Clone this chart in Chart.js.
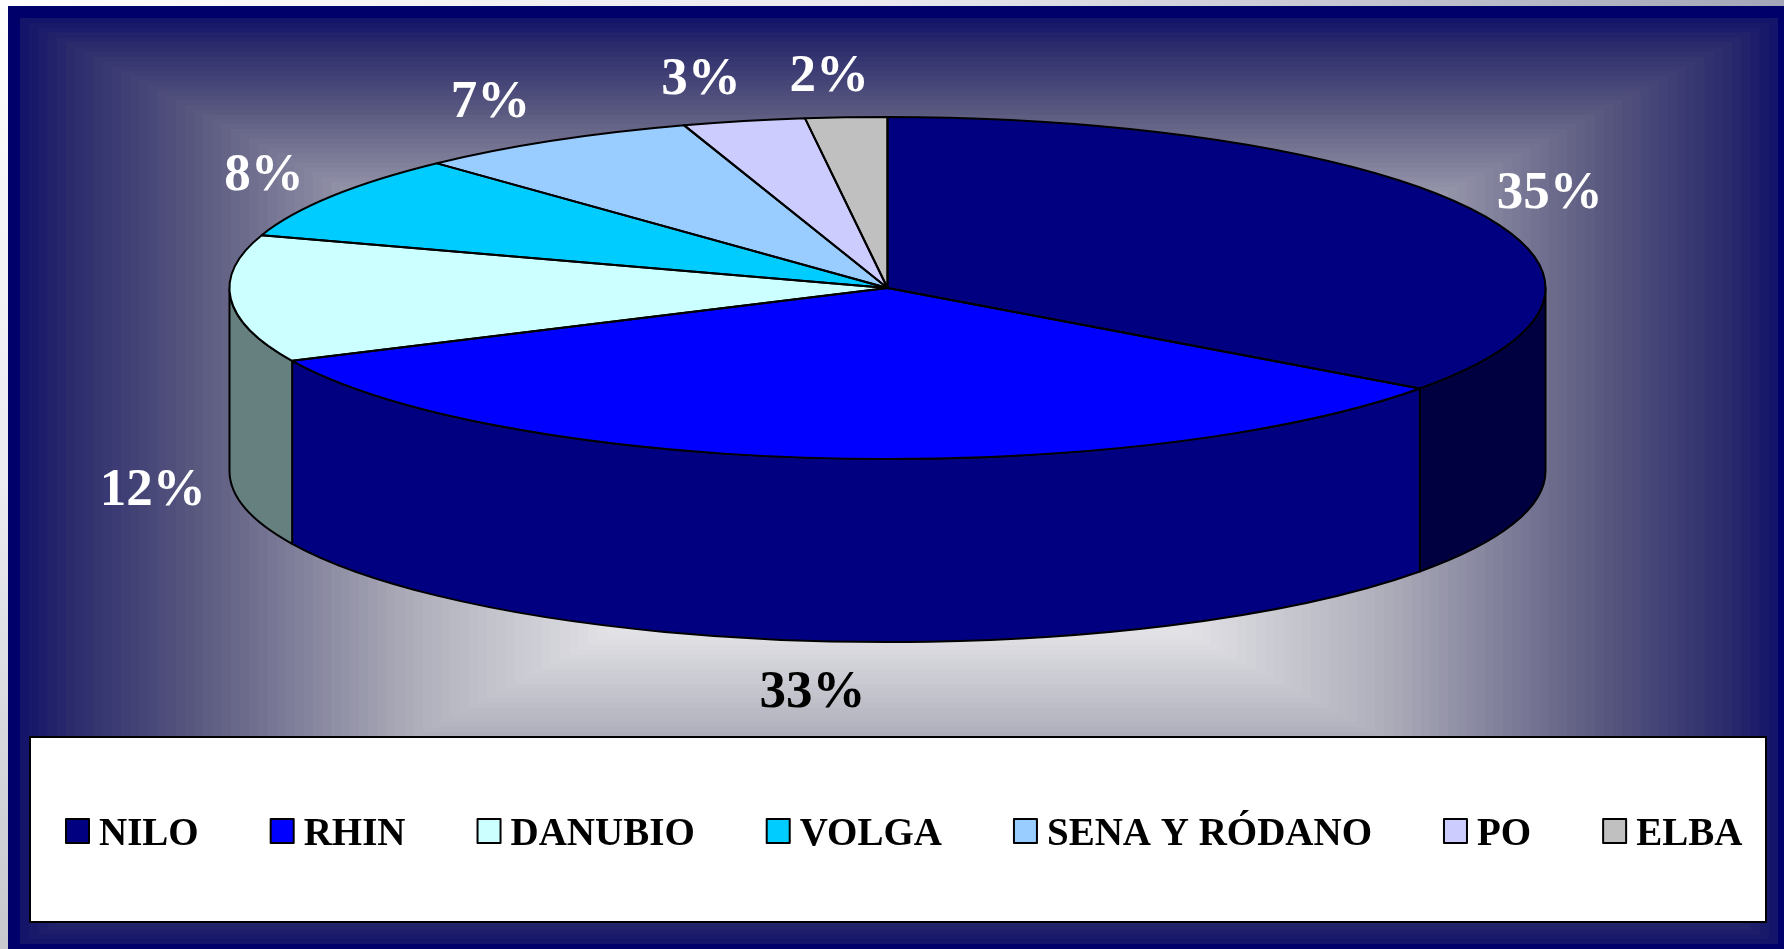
<!DOCTYPE html>
<html>
<head>
<meta charset="utf-8">
<title>Rios</title>
<style>
    html, body { margin: 0; padding: 0; background: #fff; overflow: hidden; }
    canvas { display: block; }
</style>
<script src="https://cdn.jsdelivr.net/npm/chart.js@4/dist/chart.umd.min.js"></script>
</head>
<body>
<canvas id="rivers" width="1784" height="949"></canvas>
<script>
    "use strict";

    // Data
    var rivers = ["NILO", "RHIN", "DANUBIO", "VOLGA", "SENA Y RÓDANO", "PO", "ELBA"];
    var percents = [35, 33, 12, 8, 7, 3, 2];

    // Colours
    var sliceColors = ["#000080", "#0000ff", "#ccffff", "#00ccff", "#99ccff", "#ccccff", "#c0c0c0"];
    var wallColors = ["#000040", "#000080", "#668080", "#006680", "#4d6680", "#666680", "#606060"];
    var labelColors = ["#ffffff", "#000000", "#ffffff", "#ffffff", "#ffffff", "#ffffff", "#ffffff"];

    // Shape of the tilted pie, in pixels
    var radiusX = 658;
    var radiusY = 171;
    var depth = 183;

    // Distance of each percent label from the rim of its slice
    var labelOffsets = [[76, -16], [-13, 235], [-78, 193], [-68, -20], [-62, -38], [-43, -41], [-17, -40]];

    var serif = '"Liberation Serif", "Times New Roman", serif';

    // Background: navy frame and rectangular gradient
    var gradientStops = [
        [0, [255, 255, 255]],
        [0.34, [224, 224, 229]],
        [0.55, [176, 176, 188]],
        [0.8, [91, 90, 128]],
        [0.95, [42, 42, 108]],
        [1, [20, 20, 106]]
    ];

    function gradientColor(t) {
        for (var i = 1; i < gradientStops.length; i++) {
            if (t <= gradientStops[i][0]) {
                var a = gradientStops[i - 1], b = gradientStops[i];
                var f = (t - a[0]) / (b[0] - a[0]);
                var c = a[1].map(function (v, k) { return Math.round(v + (b[1][k] - v) * f); });
                return "rgb(" + c.join(",") + ")";
            }
        }
        return "rgb(20,20,106)";
    }

    var backdrop = {
        id: "backdrop",
        beforeDraw: function (chart) {
            var ctx = chart.ctx;

            // pale strips left over above and left of the slide
            var topStrip = ctx.createLinearGradient(0, 0, chart.width, 0);
            topStrip.addColorStop(0, "#fdfdfd");
            topStrip.addColorStop(0.5, "#e8e8ee");
            topStrip.addColorStop(1, "#a4a5b6");
            ctx.fillStyle = topStrip;
            ctx.fillRect(0, 0, chart.width, 6);

            var leftStrip = ctx.createLinearGradient(0, 0, 0, chart.height);
            leftStrip.addColorStop(0, "#fdfdfd");
            leftStrip.addColorStop(0.5, "#ececf1");
            leftStrip.addColorStop(1, "#c6c8cd");
            ctx.fillStyle = leftStrip;
            ctx.fillRect(0, 6, 8, chart.height - 6);

            ctx.fillStyle = "#00006b";
            ctx.fillRect(8, 6, chart.width - 8, chart.height - 6);

            // nested rectangles give the banded look of the original
            var left = 20, top = 18, right = 1778, bottom = 944, steps = 96;
            var mx = (left + right) / 2, my = (top + bottom) / 2;
            for (var i = steps; i > 0; i--) {
                var t = i / steps;
                var hw = (right - left) / 2 * t, hh = (bottom - top) / 2 * t;
                ctx.fillStyle = gradientColor(t);
                ctx.fillRect(mx - hw, my - hh, hw * 2, hh * 2);
            }
        }
    };

    var tiltedPie = {
        id: "tiltedPie",
        beforeDatasetsDraw: function (chart) {
            var ctx = chart.ctx;
            var arcs = chart.getDatasetMeta(0).data;

            // side walls, only the part of each slice facing the viewer
            arcs.forEach(function (arc, i) {
                var from = Math.max(arc.startAngle, 0);
                var to = Math.min(arc.endAngle, Math.PI);
                if (to <= from) return;
                ctx.beginPath();
                ctx.ellipse(arc.x, arc.y, radiusX, radiusY, 0, from, to, false);
                ctx.ellipse(arc.x, arc.y + depth, radiusX, radiusY, 0, to, from, true);
                ctx.closePath();
                ctx.fillStyle = wallColors[i];
                ctx.fill();
                ctx.lineWidth = 2;
                ctx.strokeStyle = "#000";
                ctx.lineJoin = "round";
                ctx.stroke();
            });

            // squash the library's round slices into the top face
            var first = arcs[0];
            ctx.save();
            ctx.translate(first.x, first.y);
            ctx.scale(radiusX / first.outerRadius, radiusY / first.outerRadius);
            ctx.translate(-first.x, -first.y);
        },
        afterDatasetsDraw: function (chart) {
            var ctx = chart.ctx;
            ctx.restore();

            var arcs = chart.getDatasetMeta(0).data;
            arcs.forEach(function (arc) {
                ctx.beginPath();
                ctx.moveTo(arc.x, arc.y);
                ctx.ellipse(arc.x, arc.y, radiusX, radiusY, 0, arc.startAngle, arc.endAngle);
                ctx.closePath();
                ctx.lineWidth = 2;
                ctx.strokeStyle = "#000";
                ctx.lineJoin = "round";
                ctx.stroke();
            });

            // percent labels
            ctx.font = "bold 53px " + serif;
            ctx.textAlign = "center";
            ctx.textBaseline = "middle";
            arcs.forEach(function (arc, i) {
                var mid = (arc.startAngle + arc.endAngle) / 2;
                var x = arc.x + radiusX * Math.cos(mid) + labelOffsets[i][0];
                var y = arc.y + radiusY * Math.sin(mid) + labelOffsets[i][1];
                ctx.fillStyle = labelColors[i];
                ctx.fillText(percents[i] + "%", x, y);
            });

            drawLegend(chart);
        }
    };

    // Legend box
    function drawLegend(chart) {
        var ctx = chart.ctx;
        ctx.fillStyle = "#ffffff";
        ctx.fillRect(30, 737, 1736, 185);
        ctx.lineWidth = 2;
        ctx.strokeStyle = "#000";
        ctx.strokeRect(30, 737, 1736, 185);

        ctx.font = "bold 39px " + serif;
        ctx.textAlign = "left";
        ctx.textBaseline = "alphabetic";
        var x = 66;
        rivers.forEach(function (name, i) {
            ctx.fillStyle = sliceColors[i];
            ctx.fillRect(x, 819, 23, 24);
            ctx.lineWidth = 2;
            ctx.strokeStyle = "#000";
            ctx.strokeRect(x, 819, 23, 24);
            ctx.fillStyle = "#000";
            ctx.fillText(name, x + 33, 845);
            x += 33 + ctx.measureText(name).width + 72;
        });
    }

    // Rivers Chart
    var ctx1 = document.getElementById("rivers").getContext("2d");
    var myChart1 = new Chart(ctx1, {
        type: "pie",
        data: {
            labels: rivers,
            datasets: [{
                data: percents,
                backgroundColor: sliceColors,
                borderWidth: 0,
                clip: false
            }]
        },
        options: {
            responsive: false,
            animation: false,
            layout: {
                padding: { top: 0, left: 0, right: 9, bottom: 373 }
            },
            plugins: {
                legend: { display: false },
                tooltip: { enabled: false }
            }
        },
        plugins: [backdrop, tiltedPie]
    });
</script>
</body>
</html>
